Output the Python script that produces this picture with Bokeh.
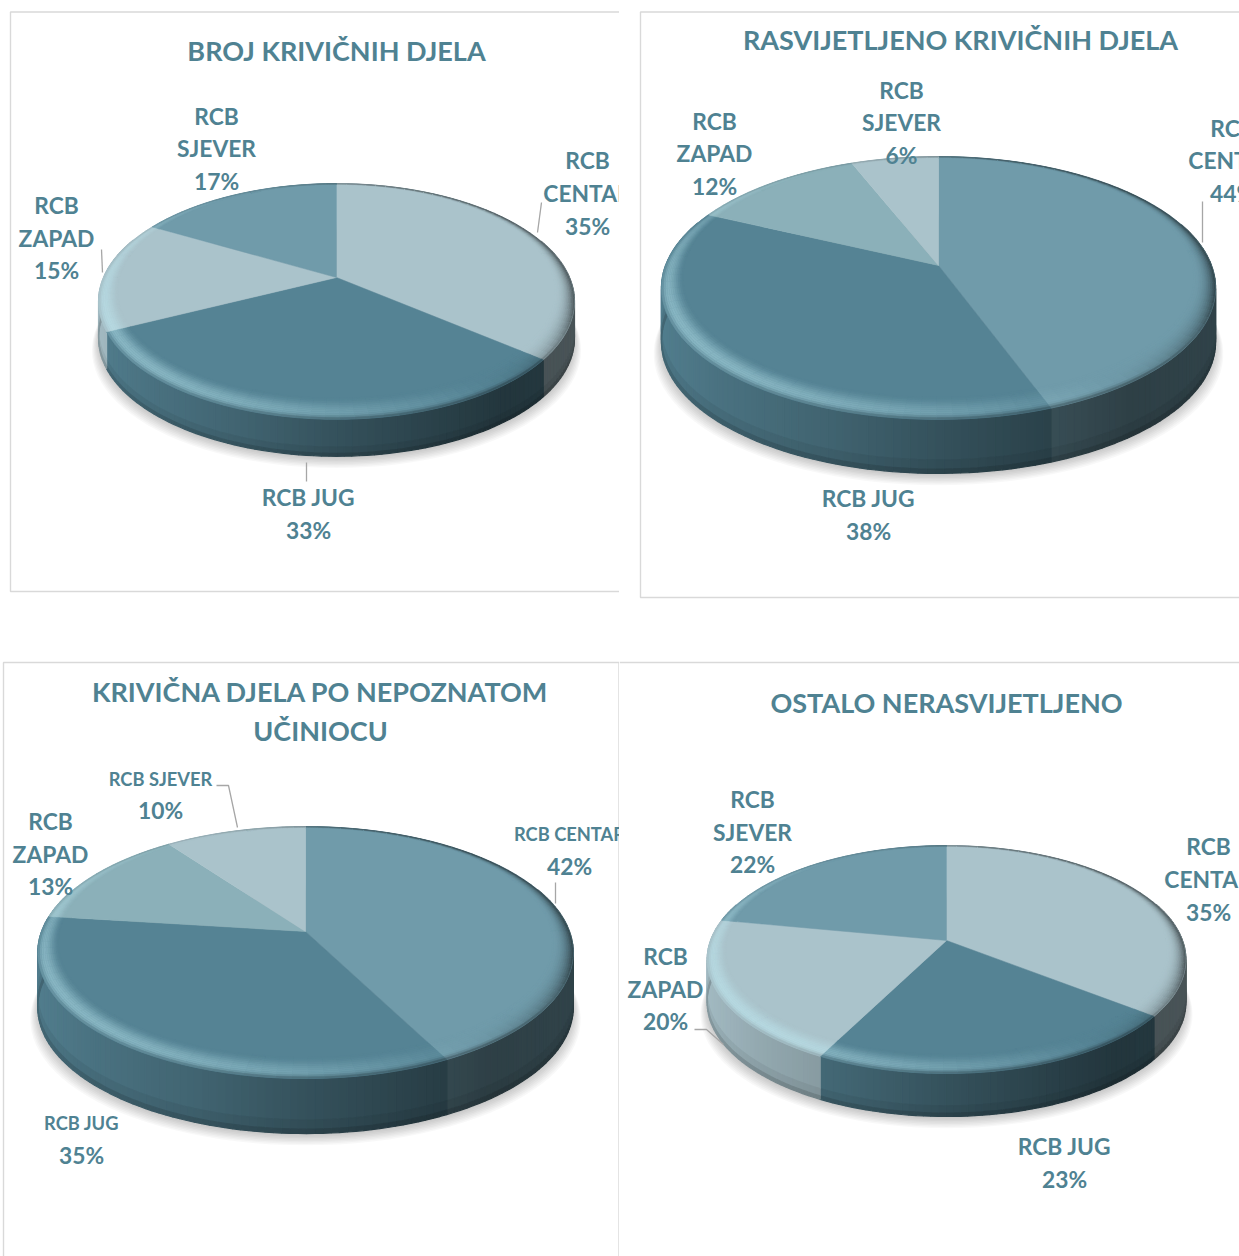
import numpy as np
from bokeh.plotting import figure
from bokeh.models import Range1d
from bokeh.layouts import column, row
from bokeh.core.properties import value
from bokeh.embed import file_html
from bokeh.resources import INLINE

# ---------- data ----------
categories = ["RCB CENTAR", "RCB JUG", "RCB ZAPAD", "RCB SJEVER"]
broj = [35.4, 32.8, 15.0, 16.8]
rasvijetljeno = [44, 38, 12, 6]
nepoznati = [42, 35, 13, 10]
ostalo = [35, 23, 20, 22]
titles = [["BROJ KRIVIČNIH DJELA"], ["RASVIJETLJENO KRIVIČNIH DJELA"],
          ["KRIVIČNA DJELA PO NEPOZNATOM", "UČINIOCU"], ["OSTALO NERASVIJETLJENO"]]

# ---------- styles ----------
DARK, MID, PALE, TEAL = (85, 131, 148), (112, 155, 170), (170, 195, 203), (139, 176, 185)
TEXT = "#4f8292"
FONT = value("Lato")
FRAME = "#d9d9d9"
LEAD = "#a6a6a6"
TITLE_PX, LABEL_PX, SMALL_PX = "27px", "22.8px", "18.3px"


def hexc(c):
    return "#%02x%02x%02x" % tuple(int(np.clip(round(v), 0, 255)) for v in c)


def mix(a, b, u):
    return tuple(a[i] + (b[i] - a[i]) * u for i in range(3))


def wall_factor(u):
    return float(np.interp(u, [0, .1, .3, .5, .7, .85, 1], [.95, .87, .76, .62, .5, .41, .43]))


def pct(v):
    return "%d%%" % round(v)


def draw_pie(p, vals, cols, ax, ay, A, B, k, h):
    def pt(t, r=1.0):
        X, Y = r * np.sin(t), r * np.cos(t)
        w = 1 + k * Y
        return ax + A * X / w, ay - B * Y / w

    rx = A / np.sqrt(1 - k * k)
    edges = np.cumsum([0] + list(vals)) / sum(vals) * 2 * np.pi
    # the rounded front rim pulls the slice boundaries slightly towards the front
    edges = np.where(np.cos(edges) < 0, edges - np.radians(2) * np.sin(2 * edges), edges)

    # soft shadow under the pie
    tt = np.linspace(0, 2 * np.pi, 121)
    sx, sy = [], []
    for g in range(8):
        gx, gy = pt(tt)
        sx.append(list(ax + (gx - ax) * (1.0 + .004 * g)))
        sy.append(list(gy + h + 2 + 1.4 * g))
    p.patches(sx, sy, fill_color="#000000", fill_alpha=.026, line_color=None)

    # walls
    xs, ys, cs = [], [], []
    for i, base in enumerate(cols):
        n = max(2, int((edges[i + 1] - edges[i]) / np.radians(1.5)) + 1)
        ts = np.linspace(edges[i], edges[i + 1], n + 1)
        for a, b in zip(ts[:-1], ts[1:]):
            if np.cos((a + b) / 2) > .35:
                continue
            xa, ya = pt(a)
            xb, yb = pt(b)
            un = ((xa + xb) / 2 - (ax - rx)) / (2 * rx)
            f = wall_factor(un)
            for s0, s1, d in ((0, .75, 1.0), (.75, .92, .94), (.92, 1.0, .82)):
                xs.append([xa, xb, xb, xa])
                ys.append([ya + h * s0, yb + h * s0, yb + h * s1, ya + h * s1])
                cs.append(hexc(tuple(v * f * d for v in base)))
    p.patches(xs, ys, fill_color=cs, line_color=cs, line_width=1.2)

    # top face
    xs, ys, cs = [], [], []
    for i, base in enumerate(cols):
        ts = np.linspace(edges[i], edges[i + 1], 90)
        gx, gy = pt(ts)
        xs.append([ax] + list(gx))
        ys.append([ay] + list(gy))
        cs.append(hexc(base))
    p.patches(xs, ys, fill_color=cs, line_color=cs, line_width=.5)

    # bevel round the rim of the top face
    xs, ys, cs = [], [], []
    prof = np.linspace(0, 1, 13)
    width = lambda t: .07 - .055 * np.cos(t)
    for i, base in enumerate(cols):
        n = max(2, int((edges[i + 1] - edges[i]) / np.radians(3)) + 1)
        ts = np.linspace(edges[i], edges[i + 1], n + 1)
        for a, b in zip(ts[:-1], ts[1:]):
            m = (a + b) / 2
            X, Y = np.sin(m), np.cos(m)
            light = -.75 * X - .5 * Y
            un = (pt(m)[0] - (ax - rx)) / (2 * rx)
            wall = tuple(v * wall_factor(un) for v in base)
            for u0, u1 in zip(prof[:-1], prof[1:]):
                uc = (u0 + u1) / 2
                ra0, rb0 = 1 - width(a) * (1 - u0), 1 - width(b) * (1 - u0)
                ra1, rb1 = 1 - width(a) * (1 - u1), 1 - width(b) * (1 - u1)
                p0, p1, p2, p3 = pt(a, ra0), pt(b, rb0), pt(b, rb1), pt(a, ra1)
                c = base
                if light > 0:
                    bump = np.sin(min(uc / .72, 1) * np.pi / 2) ** 2
                    c = mix(base, (195, 240, 248), .52 * light * bump)
                edge = .8 * ((uc - .72) / .28) ** 2 if uc > .72 else 0
                dark = min(1, -light * 1.6) * uc ** 2.4 if light < 0 else 0
                c = mix(c, wall, max(edge, dark))
                xs.append([p0[0], p1[0], p2[0], p3[0]])
                ys.append([p0[1], p1[1], p2[1], p3[1]])
                cs.append(hexc(c))
    p.patches(xs, ys, fill_color=cs, line_color=cs, line_width=.4)


def labels(p, items):
    for x, y, txt, size in items:
        p.text([x], [y - 1], text=[txt], text_font=FONT, text_font_style="bold", text_color=TEXT,
               text_font_size=size, text_align="center", text_baseline="middle")


def fig(x0, x1, y0, y1):
    p = figure(width=x1 - x0, height=y1 - y0, x_range=Range1d(x0, x1), y_range=Range1d(y1, y0),
               output_backend="svg", toolbar_location=None, min_border=0,
               background_fill_color="white", border_fill_color="white", outline_line_color=None)
    p.axis.visible = False
    p.grid.visible = False
    return p


SPLIT_X, SPLIT_Y, W, H = 619, 640, 1239, 1256

# ---------- chart 1 ----------
p1 = fig(0, SPLIT_X, 0, SPLIT_Y)
p1.line([619, 10, 10, 619], [11.5, 11.5, 591, 591], line_color=FRAME, line_width=1.4)
draw_pie(p1, broj, [PALE, DARK, PALE, MID], 336, 277, 233, 113, .203, 37)
for lx, ly in (([541, 537], [202, 232]), ([101, 102], [249, 272]), ([306, 306], [462, 481])):
    p1.line(lx, ly, line_color=LEAD, line_width=1.3)
labels(p1, [(336, 51, titles[0][0], TITLE_PX),
            (216, 116, "RCB", LABEL_PX), (216, 148, "SJEVER", LABEL_PX), (216, 181, pct(broj[3]), LABEL_PX),
            (587, 160, "RCB", LABEL_PX), (587, 193, "CENTAR", LABEL_PX), (587, 226, pct(broj[0]), LABEL_PX),
            (56, 205, "RCB", LABEL_PX), (56, 238, "ZAPAD", LABEL_PX), (56, 270, pct(broj[2]), LABEL_PX),
            (308, 497, "RCB JUG", LABEL_PX), (308, 530, pct(broj[1]), LABEL_PX)])

# ---------- chart 2 ----------
p2 = fig(SPLIT_X, W, 0, SPLIT_Y)
p2.line([1239, 640, 640, 1239], [11.5, 11.5, 597, 597], line_color=FRAME, line_width=1.4)
draw_pie(p2, rasvijetljeno, [MID, DARK, TEAL, PALE], 938, 265, 273, 127.6, .171, 54)
p2.line([1202, 1202], [201, 242], line_color=LEAD, line_width=1.3)
labels(p2, [(960, 40, titles[1][0], TITLE_PX),
            (901, 90, "RCB", LABEL_PX), (901, 122, "SJEVER", LABEL_PX), (901, 155, pct(rasvijetljeno[3]), LABEL_PX),
            (714, 121, "RCB", LABEL_PX), (714, 153, "ZAPAD", LABEL_PX), (714, 186, pct(rasvijetljeno[2]), LABEL_PX),
            (1232, 128, "RCB", LABEL_PX), (1232, 160, "CENTAR", LABEL_PX), (1232, 193, pct(rasvijetljeno[0]), LABEL_PX),
            (868, 498, "RCB JUG", LABEL_PX), (868, 531, pct(rasvijetljeno[1]), LABEL_PX)])

# ---------- chart 3 ----------
p3 = fig(0, SPLIT_X, SPLIT_Y, H)
p3.line([3, 3, 618.5, 618.5], [1256, 662, 662, 1256], line_color=FRAME, line_width=1.4)
draw_pie(p3, nepoznati, [MID, DARK, TEAL, PALE], 305, 931, 264, 122.5, .167, 55)
p3.line([216, 228, 237], [785, 785, 827], line_color=LEAD, line_width=1.3)
p3.line([555, 555], [882, 903], line_color=LEAD, line_width=1.3)
labels(p3, [(320, 692, titles[2][0], TITLE_PX), (320, 731, titles[2][1], TITLE_PX),
            (160, 779, "RCB SJEVER", SMALL_PX), (160, 810, pct(nepoznati[3]), LABEL_PX),
            (50, 821, "RCB", LABEL_PX), (50, 854, "ZAPAD", LABEL_PX), (50, 886, pct(nepoznati[2]), LABEL_PX),
            (569, 834, "RCB CENTAR", SMALL_PX), (569, 866, pct(nepoznati[0]), LABEL_PX),
            (81, 1123, "RCB JUG", SMALL_PX), (81, 1155, pct(nepoznati[1]), LABEL_PX)])

# ---------- chart 4 ----------
p4 = fig(SPLIT_X, W, SPLIT_Y, H)
p4.line([1239, 619], [662, 662], line_color=FRAME, line_width=1.4)
draw_pie(p4, ostalo, [PALE, DARK, PALE, MID], 946, 940, 236, 110.8, .167, 43)
p4.line([694, 706, 723], [1029, 1029, 1044], line_color=LEAD, line_width=1.3)
labels(p4, [(946, 703, titles[3][0], TITLE_PX),
            (752, 799, "RCB", LABEL_PX), (752, 832, "SJEVER", LABEL_PX), (752, 864, pct(ostalo[3]), LABEL_PX),
            (665, 956, "RCB", LABEL_PX), (665, 989, "ZAPAD", LABEL_PX), (665, 1021, pct(ostalo[2]), LABEL_PX),
            (1208, 846, "RCB", LABEL_PX), (1208, 879, "CENTAR", LABEL_PX), (1208, 912, pct(ostalo[0]), LABEL_PX),
            (1064, 1146, "RCB JUG", LABEL_PX), (1064, 1179, pct(ostalo[1]), LABEL_PX)])

layout = column(row(p1, p2, spacing=0), row(p3, p4, spacing=0), spacing=0)
layout.styles = {"position": "absolute", "left": "0px", "top": "0px"}
open("out.html", "w").write(file_html(layout, INLINE))
